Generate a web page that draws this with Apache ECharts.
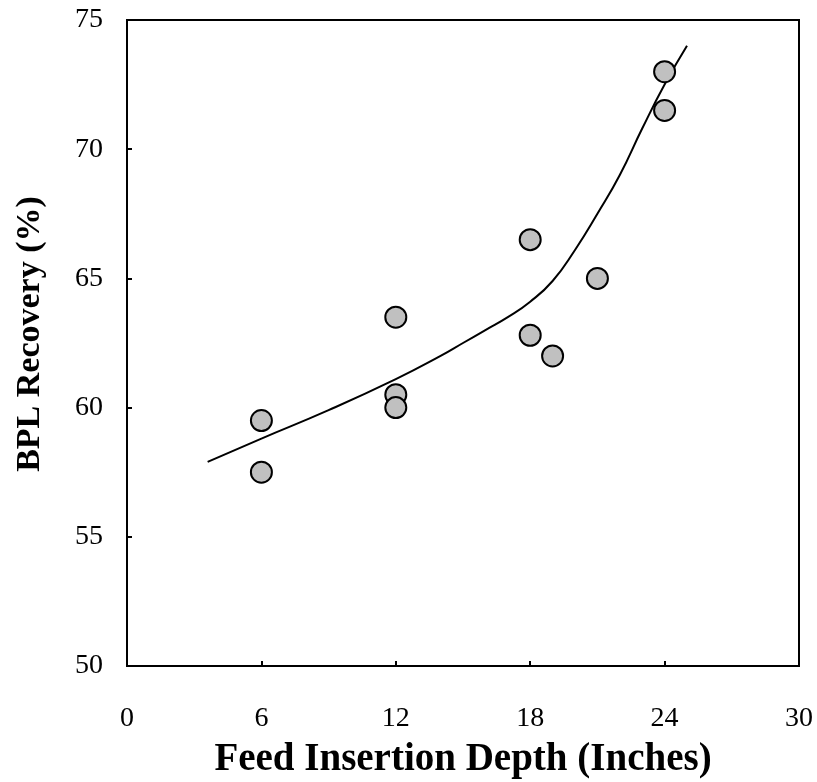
<!DOCTYPE html>
<html>
<head>
<meta charset="utf-8">
<script src="https://cdn.jsdelivr.net/npm/echarts@6/dist/echarts.min.js"></script>
<style>
  html, body { margin: 0; padding: 0; background: #fff; }
  #chart { width: 817px; height: 782px; }
</style>
</head>
<body>
<div id="chart"></div>
<script>
// measured points (depth in inches, recovery %)
let depthPts = [6, 6, 12, 12, 12, 18, 18, 19, 21, 24, 24];
let recoveryPts = [59.5, 57.5, 63.5, 60.5, 60, 66.5, 62.8, 62, 65, 73, 71.5];

// fitted trend curve
let curveX = [3.6, 6, 9, 12, 14, 15, 16, 17, 18, 19, 20, 21, 22, 23, 24, 25];
let curveY = [57.9, 58.8, 59.9, 61.1, 62.0, 62.5, 63.0, 63.5, 64.1, 64.9, 66.1, 67.5, 69.0, 70.8, 72.5, 74.0];

let xTicks = [0, 6, 12, 18, 24, 30];
let yTicks = [50, 55, 60, 65, 70, 75];

let font = '"Liberation Serif", "Times New Roman", serif';

let chart = echarts.init(document.getElementById('chart'));

let option = {
    animation: false,
    grid: {
        left: 127,
        top: 20,
        right: 18,
        bottom: 116,
        outerBoundsMode: 'none',
        show: true,
        borderColor: '#000',
        borderWidth: 2
    },
    xAxis: {
        type: 'value',
        min: xTicks[0],
        max: xTicks[xTicks.length - 1],
        interval: 6,
        name: 'Feed Insertion Depth (Inches)',
        nameLocation: 'middle',
        nameGap: 74,
        nameTextStyle: { fontFamily: font, fontWeight: 'bold', fontSize: 39, color: '#000' },
        axisLine: { lineStyle: { color: '#000', width: 2 } },
        axisTick: { inside: true, length: 5, lineStyle: { color: '#000', width: 2 } },
        axisLabel: { margin: 39, fontFamily: font, fontSize: 28, color: '#000' },
        splitLine: { show: false }
    },
    yAxis: {
        type: 'value',
        min: yTicks[0],
        max: yTicks[yTicks.length - 1],
        interval: 5,
        name: 'BPL Recovery (%)',
        nameLocation: 'middle',
        nameGap: 80,
        nameTextStyle: { fontFamily: font, fontWeight: 'bold', fontSize: 34, color: '#000', padding: [0, 0, 0, 18] },
        axisLine: { lineStyle: { color: '#000', width: 2 } },
        axisTick: { inside: true, length: 5, lineStyle: { color: '#000', width: 2 } },
        axisLabel: { margin: 24, fontFamily: font, fontSize: 28, color: '#000' },
        splitLine: { show: false }
    },
    series: [{
            name: 'trend',
            type: 'line',
            smooth: true,
            showSymbol: false,
            data: curveX.map(function(x, i) { return [x, curveY[i]]; }),
            lineStyle: { color: '#000', width: 2 },
            z: 3
        },
        {
            name: 'data',
            type: 'scatter',
            symbol: 'circle',
            symbolSize: 21,
            data: depthPts.map(function(x, i) { return [x, recoveryPts[i]]; }),
            itemStyle: { color: '#c0c0c0', borderColor: '#000', borderWidth: 2, opacity: 1 },
            z: 4
        }
    ]
};

chart.setOption(option);
</script>
</body>
</html>
